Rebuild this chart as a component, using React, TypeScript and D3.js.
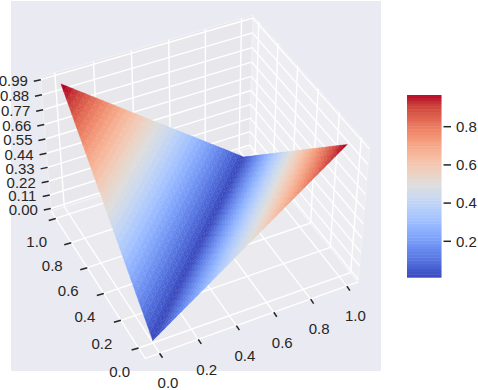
import React from "react";
import * as d3 from "d3";

// Ticks
const xTicks = [0, 0.2, 0.4, 0.6, 0.8, 1.0];
const yTicks = [0, 0.2, 0.4, 0.6, 0.8, 1.0];
const zTicks = [0, 0.11, 0.22, 0.33, 0.44, 0.55, 0.66, 0.77, 0.88, 0.99];
const cbarTicks = [0.2, 0.4, 0.6, 0.8];

// Surface mesh nodes, same on x and y
const meshNodes = [
  0, 0.03, 0.06, 0.09, 0.12, 0.15, 0.18, 0.21, 0.24, 0.27, 0.3, 0.33, 0.36, 0.39, 0.42, 0.45, 0.48,
  0.51, 0.54, 0.57, 0.6, 0.63, 0.66, 0.69, 0.72, 0.75, 0.78, 0.81, 0.84, 0.87, 0.9, 0.93, 0.96, 0.99,
];
// Height read along the fold, indexed by how many nodes a point is away from the diagonal
const heightByGap = [
  0, 0.03, 0.06, 0.09, 0.12, 0.15, 0.18, 0.21, 0.24, 0.27, 0.3, 0.33, 0.36, 0.39, 0.42, 0.45, 0.48,
  0.51, 0.54, 0.57, 0.6, 0.63, 0.66, 0.69, 0.72, 0.75, 0.78, 0.81, 0.84, 0.87, 0.9, 0.93, 0.96, 0.99,
];

// coolwarm
const coolwarm = [
  "#3b4cc0", "#4d68d7", "#6282ea", "#779af7", "#8db0fe", "#a3c2ff", "#b8d0f9", "#ccd9ee",
  "#dddddd", "#ecd3c5", "#f5c4ad", "#f7b194", "#f49a7b", "#ec7f63", "#de604d", "#cb3e38", "#b40426",
];

const width = 478;
const height = 390;
const elev = (40.8 * Math.PI) / 180;
const azim = (-116.3 * Math.PI) / 180;
const camDist = 8.5;
const view = { sx: 199.2, sy: 199.6, cx: 201, cy: 180.5 };

const boxX = d3.scaleLinear().domain([-0.073, 1.063]).range([-0.595, 0.595]);
const boxY = d3.scaleLinear().domain([-0.073, 1.063]).range([-0.595, 0.595]);
const boxZ = d3.scaleLinear().domain([-0.02, 1.01]).range([-0.446, 0.446]);
const [x0, x1] = boxX.domain();
const [y0, y1] = boxY.domain();
const [z0, z1] = boxZ.domain();

type P3 = [number, number, number];

const right = [-Math.sin(azim), Math.cos(azim), 0];
const up = [-Math.sin(elev) * Math.cos(azim), -Math.sin(elev) * Math.sin(azim), Math.cos(elev)];
const eye = [Math.cos(elev) * Math.cos(azim), Math.cos(elev) * Math.sin(azim), Math.sin(elev)];
const dot = (a: number[], b: number[]) => a[0] * b[0] + a[1] * b[1] + a[2] * b[2];
const toBox = (p: P3) => [boxX(p[0]), boxY(p[1]), boxZ(p[2])];
const depth = (p: P3) => dot(toBox(p), eye);

function project(p: P3): [number, number] {
  const b = toBox(p);
  const f = camDist / (camDist - dot(b, eye));
  return [view.cx + view.sx * dot(b, right) * f, view.cy - view.sy * dot(b, up) * f];
}

const polyPath = d3.line();
const facePath = (pts: P3[]) => polyPath(pts.map(project)) + "Z";
const segPath = (a: P3, b: P3) => polyPath([project(a), project(b)]) as string;

const cmap = d3
  .scaleLinear<string>()
  .domain(coolwarm.map((_, i) => i / (coolwarm.length - 1)))
  .range(coolwarm)
  .clamp(true);
const norm = d3.scaleLinear().domain([0.0115, 0.966]);

// two triangles per mesh cell, split along the fold direction
type Facet = { pts: P3[]; z: number };
const facets: Facet[] = [];
const node = (i: number, j: number): P3 => [meshNodes[i], meshNodes[j], heightByGap[Math.abs(i - j)]];
for (let i = 0; i < meshNodes.length - 1; i++) {
  for (let j = 0; j < meshNodes.length - 1; j++) {
    const a = [node(i, j), node(i + 1, j), node(i + 1, j + 1)];
    const b = [node(i, j), node(i, j + 1), node(i + 1, j + 1)];
    for (const pts of [a, b]) facets.push({ pts, z: d3.mean(pts, (p) => p[2]) as number });
  }
}
facets.sort((a, b) => d3.ascending(d3.mean(a.pts, depth), d3.mean(b.pts, depth)));

const cbarY = d3.scaleLinear().domain([0.0115, 0.966]).range([277.3, 95]);
const cbarSteps = d3.range(0, 64);

const ink = "#262626";
const font = "'Liberation Sans', Arial, sans-serif";

export default function App() {
  const gridLines: string[] = [];
  xTicks.forEach((x) => {
    gridLines.push(segPath([x, y0, z0], [x, y1, z0]));
    gridLines.push(segPath([x, y1, z0], [x, y1, z1]));
  });
  yTicks.forEach((y) => {
    gridLines.push(segPath([x0, y, z0], [x1, y, z0]));
    gridLines.push(segPath([x1, y, z0], [x1, y, z1]));
  });
  zTicks.forEach((z) => {
    gridLines.push(segPath([x0, y1, z], [x1, y1, z]));
    gridLines.push(segPath([x1, y1, z], [x1, y0, z]));
  });

  return (
    <svg
      width={width}
      height={height}
      style={{ position: "absolute", left: 0, top: 0 }}
      fontFamily={font}
      fontSize={15}
    >
      <rect x={11} y={1} width={370} height={370} fill="#eaeaf2" />

      {/* panes */}
      <path d={facePath([[x0, y0, z0], [x1, y0, z0], [x1, y1, z0], [x0, y1, z0]])} fill="#ebebef" stroke="#fff" strokeWidth={1.4} />
      <path d={facePath([[x0, y1, z0], [x1, y1, z0], [x1, y1, z1], [x0, y1, z1]])} fill="#e8e8ec" stroke="#f2f2f5" />
      <path d={facePath([[x1, y0, z0], [x1, y1, z0], [x1, y1, z1], [x1, y0, z1]])} fill="#eeeef2" stroke="#f2f2f5" />

      <g fill="none" stroke="#fff" strokeWidth={1.4}>
        {gridLines.map((d, i) => (
          <path key={i} d={d} />
        ))}
      </g>

      <g>
        {facets.map((f, i) => {
          const c = cmap(norm(f.z));
          return <path key={i} d={facePath(f.pts)} fill={c} stroke={c} strokeWidth={0.4} />;
        })}
      </g>

      {/* axes ticks and labels */}
      <g fill={ink} stroke="none" textAnchor="middle">
        {xTicks.map((x) => {
          const [px, py] = project([x, y0, z0]);
          return (
            <g key={x}>
              <line x1={px} y1={py} x2={px + 3} y2={py + 4.5} stroke={ink} strokeWidth={1.5} />
              <text x={px + 8.5} y={py + 30} dy="0.35em">{x.toFixed(1)}</text>
            </g>
          );
        })}
        {yTicks.map((y) => {
          const [px, py] = project([x0, y, z0]);
          return (
            <g key={y}>
              <line x1={px} y1={py} x2={px - 7} y2={py + 2} stroke={ink} strokeWidth={1.5} />
              <text x={px - 19} y={py + 23.5} dy="0.35em">{y.toFixed(1)}</text>
            </g>
          );
        })}
        {zTicks.map((z) => {
          const [px, py] = project([x0, y1, z]);
          return (
            <g key={z}>
              <line x1={px} y1={py} x2={px - 7} y2={py + 1.5} stroke={ink} strokeWidth={1.5} />
              <text x={px - 27.5} y={py + 1} dy="0.35em">{z.toFixed(2)}</text>
            </g>
          );
        })}
      </g>

      {/* colorbar */}
      <g>
        {cbarSteps.map((s) => {
          const v0 = 0.0115 + (s / 64) * (0.966 - 0.0115);
          const v1 = 0.0115 + ((s + 1) / 64) * (0.966 - 0.0115);
          return (
            <rect
              key={s}
              x={407}
              y={cbarY(v1)}
              width={34.5}
              height={cbarY(v0) - cbarY(v1) + 0.4}
              fill={cmap(norm(v0))}
            />
          );
        })}
        {cbarTicks.map((t) => (
          <g key={t}>
            <line x1={443.5} x2={451} y1={cbarY(t)} y2={cbarY(t)} stroke={ink} strokeWidth={1.5} />
            <text x={456} y={cbarY(t)} dy="0.35em" fill={ink}>{t.toFixed(1)}</text>
          </g>
        ))}
      </g>
    </svg>
  );
}
